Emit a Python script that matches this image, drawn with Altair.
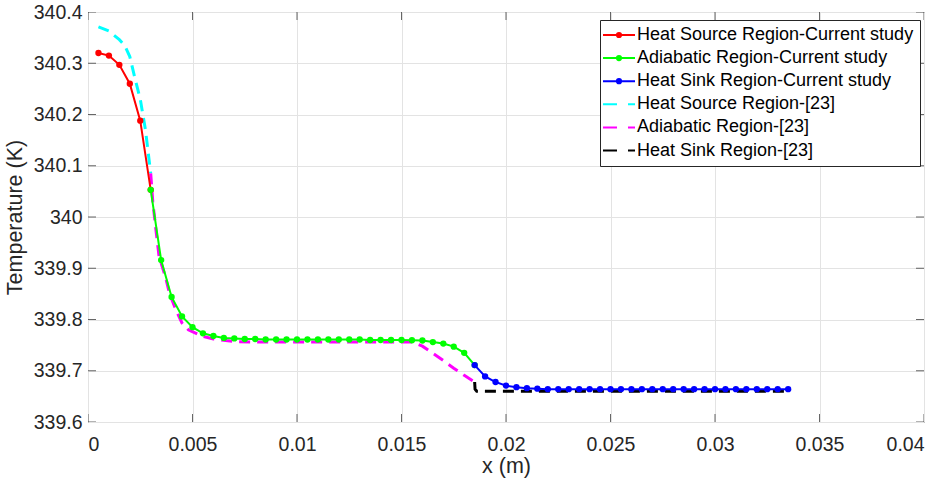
import altair as alt
import pandas as pd

# ---- Current study (solid lines with markers) ----
src_x = [0.0005, 0.001, 0.0015, 0.002, 0.0025, 0.003]
src_T = [340.320, 340.315, 340.297, 340.260, 340.188, 340.053]

adi_x = [0.003, 0.0035, 0.004, 0.0045, 0.005, 0.0055, 0.006, 0.0065,
         0.007, 0.0075, 0.008, 0.0085, 0.009, 0.0095, 0.01, 0.0105,
         0.011, 0.0115, 0.012, 0.0125, 0.013, 0.0135, 0.014, 0.0145,
         0.015, 0.0155, 0.016, 0.0165, 0.017, 0.0175, 0.018, 0.0185]
adi_T = [340.053, 339.916, 339.844, 339.806, 339.785, 339.773, 339.768, 339.764,
         339.763, 339.762, 339.762, 339.761, 339.761, 339.761, 339.761, 339.761,
         339.761, 339.761, 339.761, 339.761, 339.761, 339.760, 339.760, 339.760,
         339.760, 339.7595, 339.759, 339.756, 339.753, 339.747, 339.735, 339.711]

snk_x = [0.0185, 0.019, 0.0195, 0.02, 0.0205, 0.021, 0.0215, 0.022,
         0.0225, 0.023, 0.0235, 0.024, 0.0245, 0.025, 0.0255, 0.026,
         0.0265, 0.027, 0.0275, 0.028, 0.0285, 0.029, 0.0295, 0.03,
         0.0305, 0.031, 0.0315, 0.032, 0.0325, 0.033, 0.0335]
snk_T = [339.711, 339.689, 339.678, 339.671, 339.668, 339.666, 339.665, 339.664,
         339.664, 339.664, 339.664, 339.664, 339.664, 339.664, 339.664, 339.664,
         339.664, 339.664, 339.664, 339.664, 339.664, 339.664, 339.664, 339.664,
         339.664, 339.664, 339.664, 339.664, 339.664, 339.664, 339.664]

# ---- Reference [23] (dashed lines) ----
ref_src_x = [0.0005, 0.001, 0.0015, 0.00175, 0.002, 0.00225, 0.0025, 0.00275, 0.003]
ref_src_T = [340.371, 340.363, 340.346, 340.335, 340.313, 340.270, 340.230, 340.170, 340.085]

ref_adi_x = [0.003, 0.0031, 0.00325, 0.0034, 0.0037, 0.0039, 0.0042, 0.0045, 0.0048,
             0.0055, 0.006, 0.007, 0.008, 0.010, 0.012, 0.014, 0.0155,
             0.016, 0.0165, 0.017, 0.0175, 0.018, 0.0185]
ref_adi_T = [340.085, 340.030, 339.975, 339.923, 339.884, 339.851, 339.819, 339.793, 339.780,
             339.767, 339.762, 339.757, 339.756, 339.756, 339.756, 339.756, 339.756,
             339.748, 339.734, 339.720, 339.705, 339.691, 339.678]

ref_snk_x = [0.0185, 0.01852, 0.0186, 0.019, 0.022, 0.025, 0.028, 0.031, 0.0335]
ref_snk_T = [339.678, 339.664, 339.660, 339.660, 339.660, 339.660, 339.660, 339.660, 339.660]

names = ["Heat Source Region-Current study",
         "Adiabatic Region-Current study",
         "Heat Sink Region-Current study",
         "Heat Source Region-[23]",
         "Adiabatic Region-[23]",
         "Heat Sink Region-[23]"]
colors = ["#ff0000", "#00ff00", "#0000ff", "#00ffff", "#ff00ff", "#000000"]

x_ticks = [0, 0.005, 0.01, 0.015, 0.02, 0.025, 0.03, 0.035, 0.04]
y_ticks = [339.6, 339.7, 339.8, 339.9, 340.0, 340.1, 340.2, 340.3, 340.4]

W, H = 836, 410
AXIS = "#262626"
FONT = "Liberation Sans"

series_xy = [(src_x, src_T), (adi_x, adi_T), (snk_x, snk_T),
             (ref_src_x, ref_src_T), (ref_adi_x, ref_adi_T), (ref_snk_x, ref_snk_T)]
frames = [pd.DataFrame({"x": xs, "T": ts, "series": n})
          for (xs, ts), n in zip(series_xy, names)]

x_scale = alt.Scale(domain=[0, 0.04], nice=False, zero=False)
y_scale = alt.Scale(domain=[339.6, 340.4], nice=False, zero=False)

x_axis = alt.Axis(values=x_ticks, format="~g", title="x (m)", grid=True,
                  ticks=False, tickSize=0, domain=False, labelPadding=13,
                  titleX=W / 2, titleY=50, titleBaseline="alphabetic",
                  titleAlign="center")
y_axis = alt.Axis(values=y_ticks, format="~g", title="Temperature (K)", grid=True,
                  ticks=False, tickSize=0, domain=False, labelPadding=6,
                  titleX=-67, titleY=H / 2, titleAngle=270,
                  titleBaseline="alphabetic", titleAlign="center")


def enc_x():
    return alt.X("x:Q", scale=x_scale, axis=x_axis)


def enc_y():
    return alt.Y("T:Q", scale=y_scale, axis=y_axis)


layers = []

# reference curves: thick dashed lines
for i in (3, 4, 5):
    layers.append(
        alt.Chart(frames[i]).mark_line(color=colors[i], strokeWidth=3,
                                       strokeDash=[11, 7])
        .encode(x=enc_x(), y=enc_y(), order="x:Q")
    )

# current study: solid lines with filled circle markers
for i in (0, 1, 2):
    layers.append(
        alt.Chart(frames[i]).mark_line(color=colors[i], strokeWidth=2)
        .encode(x=enc_x(), y=enc_y())
    )
    layers.append(
        alt.Chart(frames[i]).mark_circle(color=colors[i], size=40, opacity=1)
        .encode(x=enc_x(), y=enc_y())
    )

# inward tick marks on all four sides of the box
xt = pd.DataFrame({"x": x_ticks})
yt = pd.DataFrame({"T": y_ticks})
tick_style = dict(clip=True, color=AXIS, thickness=1, size=16)
layers.append(alt.Chart(xt).mark_tick(**tick_style).encode(x=enc_x(), y=alt.value(H)))
layers.append(alt.Chart(xt).mark_tick(**tick_style).encode(x=enc_x(), y=alt.value(0)))
layers.append(alt.Chart(yt).mark_tick(**tick_style).encode(y=enc_y(), x=alt.value(0)))
layers.append(alt.Chart(yt).mark_tick(**tick_style).encode(y=enc_y(), x=alt.value(W)))

# legend glyphs as custom symbol paths (unit = 7 px at symbolSize 196):
# a line with a dot for the current study, a dash pair for the reference
marker_path = ("M-2.286,0H2.286M-0.3,0A0.3,0.3 0 1,0 0.3,0"
               "A0.3,0.3 0 1,0 -0.3,0Z")
dash_path = "M-2.286,0H-0.286M1.286,0H2.286"
shapes = [marker_path] * 3 + [dash_path] * 3
widths = [2, 2, 2, 3, 3, 3]

legend = alt.Legend(title=None, orient="none", legendX=512, legendY=8,
                    symbolSize=196, symbolOffset=4, labelFont=FONT,
                    labelFontSize=18, labelLimit=500,
                    labelColor="#000000", labelOffset=9, rowPadding=5.1,
                    padding=6, strokeColor=AXIS, fillColor="white",
                    cornerRadius=0, symbolOpacity=1)

leg_df = pd.DataFrame({"series": names})
legend_layer = (
    alt.Chart(leg_df)
    .transform_filter(alt.datum.series == "none")
    .mark_point()
    .encode(
        x=alt.X("x:Q", scale=x_scale, axis=x_axis),
        y=alt.Y("T:Q", scale=y_scale, axis=y_axis),
        stroke=alt.Stroke("series:N", scale=alt.Scale(domain=names, range=colors), legend=legend),
        fill=alt.Fill("series:N", scale=alt.Scale(domain=names, range=colors), legend=legend),
        shape=alt.Shape("series:N", scale=alt.Scale(domain=names, range=shapes), legend=legend),
        strokeWidth=alt.StrokeWidth("series:N", scale=alt.Scale(domain=names, range=widths), legend=legend),
    )
)
layers.append(legend_layer)

chart = (
    alt.layer(*layers)
    .properties(width=W, height=H,
                autosize=alt.AutoSizeParams(type="none"),
                padding={"left": 88, "top": 12, "right": 22, "bottom": 59})
    .configure(background="white")
    .configure_view(stroke=AXIS, strokeWidth=1)
    .configure_axis(labelFont=FONT, labelFontSize=19.5, labelColor=AXIS,
                    titleFont=FONT, titleFontSize=21.5, titleFontWeight="normal",
                    titleColor=AXIS, gridColor="#e3e3e3", gridWidth=1,
                    gridOpacity=1)
)

chart.save("out.html", embed_options={"renderer": "svg", "actions": False})
